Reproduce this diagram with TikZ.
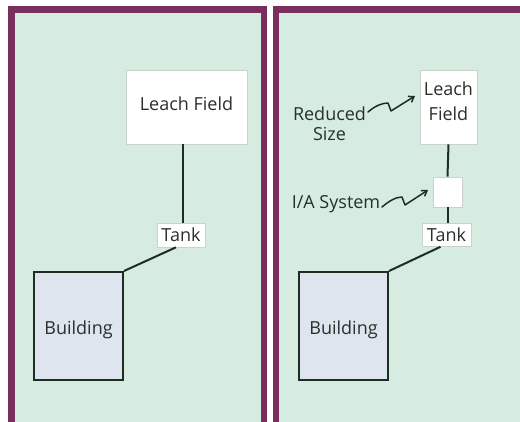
\documentclass[tikz,border=0pt]{standalone}
\usepackage{fontspec}
\setmainfont{Open Sans}
\usetikzlibrary{arrows.meta}
\definecolor{panelgreen}{HTML}{D6ECE0}
\definecolor{frame}{HTML}{7A2E5E}
\definecolor{bldg}{HTML}{DFE5EF}
\definecolor{ink}{HTML}{1E2C24}
\definecolor{txt}{HTML}{283028}
\definecolor{boxedge}{HTML}{C9D2CD}
\tikzset{
  x=1pt, y=-1pt,
  panel/.style={fill=panelgreen, draw=frame, line width=6.5pt},
  whitebox/.style={draw=boxedge, line width=0.6pt, fill=white, inner sep=0pt, text=txt, font=\fontsize{18}{21}\selectfont, align=center},
  bldgbox/.style={draw=ink, line width=2pt, fill=bldg, inner sep=0pt, minimum width=89pt, minimum height=108pt, text=txt, font=\fontsize{18}{21}\selectfont, text height=20pt, text depth=4pt},
  pipe/.style={draw=ink, line width=2pt},
  lbl/.style={text=txt, font=\fontsize{18}{20}\selectfont, align=center, inner sep=0pt},
  squiggle/.style={draw=ink, line width=1.5pt, -{Straight Barb[length=5pt,width=7pt]}, line join=round, line cap=round}
}
\begin{document}
\begin{tikzpicture}
\useasboundingbox (0,0) rectangle (520,421);
\fill[white] (0,0) rectangle (520,421);
\clip (0,0) rectangle (520,421);
% panels
\draw[panel] (11.25,9.25) rectangle (263.75,440);
\draw[panel] (275.75,9.25) rectangle (560,440);
% left panel
\node[whitebox, minimum width=121pt, minimum height=74pt, text height=8pt, text depth=2pt] (lf1) at (186.5,107) {Leach Field};
\node[whitebox, minimum width=48pt, minimum height=24pt] (tank1) at (181,235) {Tank};
\node[bldgbox] (b1) at (78.5,326) {Building};
\draw[pipe] (lf1.south) ++(-3.5,0) coordinate (lf1p) -- (lf1p |- tank1.north);
\draw[pipe] ([xshift=-5pt]tank1.south) -- (b1.north east);
% right panel
\node[whitebox, minimum width=57pt, minimum height=74pt] (lf2) at (448.5,107) {Leach\\[4pt]Field\\[-10pt]\mbox{}};
\node[whitebox, minimum width=29pt, minimum height=30pt] (ia) at (447.5,192) {};
\node[whitebox, minimum width=49pt, minimum height=23pt] (tank2) at (446.5,235) {Tank};
\node[bldgbox] (b2) at (343.5,326) {Building};
\draw[pipe] (lf2.south) -- (ia.north);
\draw[pipe] (ia.south) -- (ia.south |- tank2.north);
\draw[pipe] ([xshift=-6pt]tank2.south) -- (b2.north east);
% labels
\node[lbl] (rs) at (329.5,124) {Reduced\\Size};
\node[lbl] (ias) at (336,204) {I/A System};
\coordinate (rsa) at (368,112);
\coordinate (rsb) at (415,96);
\coordinate (iaa) at (382,207);
\coordinate (iab) at (428,190);
\draw[squiggle] (rsa) .. controls (375,106) and (382,103) .. (388,103) -- (391,111) -- (rsb);
\draw[squiggle] (iaa) .. controls (389,201) and (396,197) .. (402,197) -- (405,205) -- (iab);
\end{tikzpicture}
\end{document}
